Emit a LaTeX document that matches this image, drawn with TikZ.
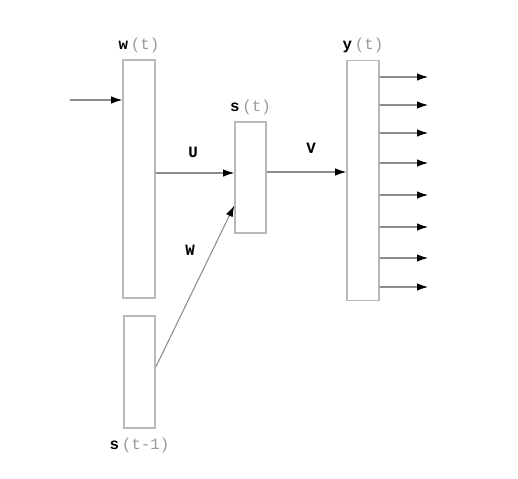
\documentclass[tikz,border=0pt]{standalone}
\usepackage{fontspec}
\setmonofont{Liberation Mono}
\usepackage{xcolor}
\usetikzlibrary{arrows.meta,positioning,calc}
\definecolor{cBox}{HTML}{B8B8B8}
\definecolor{cLine}{HTML}{8C8C8C}
\definecolor{cTxt}{HTML}{9A9A9A}
\tikzset{
  layer/.style={rectangle,draw=cBox,line width=.9pt,fill=white,inner sep=0pt},
  conn/.style={-{Latex[length=2.2mm,width=1.5mm,black]},line width=.6pt,cLine},
  lbl/.style={font=\ttfamily\fontsize{9}{10}\selectfont,inner sep=1pt},
  wlbl/.style={font=\ttfamily\bfseries\fontsize{9}{10}\selectfont,inner sep=1pt},
}
\newcommand{\layername}[2]{\textbf{#1}\,\textcolor{cTxt}{(#2)}}
\begin{document}
\begin{tikzpicture}[x=0.02cm,y=-0.02cm]
  \useasboundingbox (0,0) rectangle (518,478);
  % the four layers
  \node[layer,minimum width=32*0.02cm,minimum height=238*0.02cm] (w) at (139,179){};
  \node[layer,minimum width=31*0.02cm,minimum height=112*0.02cm] (sp) at (139.5,372){};
  \node[layer,minimum width=31*0.02cm,minimum height=111*0.02cm] (s) at (250.5,177.5){};
  \node[layer,minimum width=32*0.02cm,minimum height=240*0.02cm] (y) at (363,180.5){};
  % names of the layers
  \node[lbl,above=2.5pt of w.north] (lw) {\layername{w}{t}};
  \node[lbl,above=2.5pt of s.north] (ls) {\layername{s}{t}};
  \node[lbl,above=2.5pt of y.north] (ly) {\layername{y}{t}};
  \node[lbl,below=4pt of sp.south] (lsp) {\layername{s}{t-1}};
  % input and weights
  \coordinate (in) at (70,100);
  \draw[conn] (in) -- (in -| w.west);
  \draw[conn] (w.east |- 0,173) -- (s.west |- 0,173);
  \draw[conn] (sp.east |- 0,367) -- ($(s.south west)!0.25!(s.north west)$);
  \draw[conn] (s.east |- 0,172) -- (y.west |- 0,172);
  \node[wlbl] (lU) at (193,152) {U};
  \node[wlbl] (lV) at (311,148) {V};
  \node[wlbl] (lW) at (190,250) {W};
  % outputs
  \foreach \i/\yy in {1/77,2/105,3/133,4/163,5/195,6/227,7/258,8/287}{
     \coordinate (out\i) at (428,\yy);
     \draw[conn] (y.east |- out\i) -- (out\i);
  }
\end{tikzpicture}
\end{document}
